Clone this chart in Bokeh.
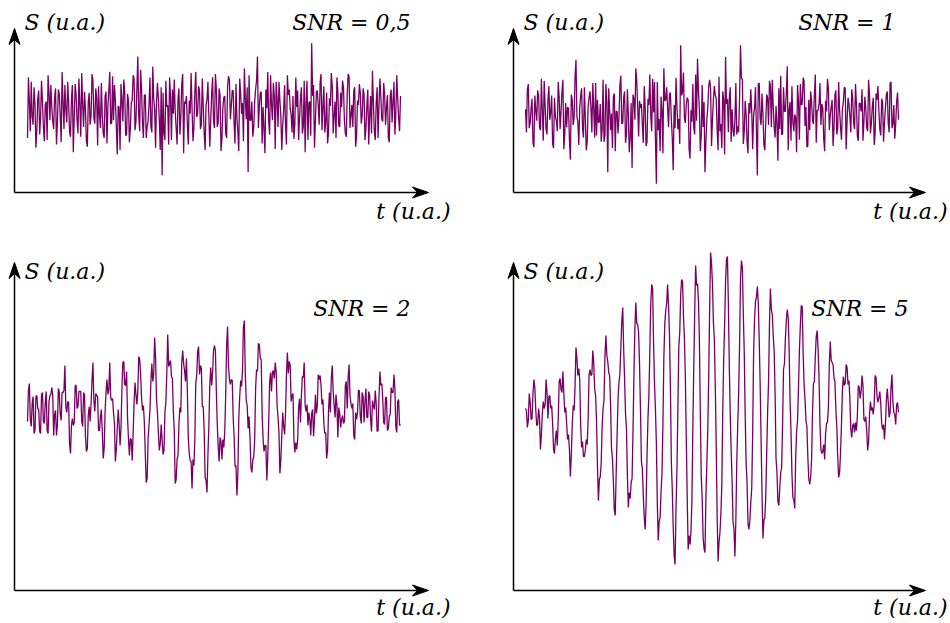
import numpy as np
from bokeh.plotting import figure
from bokeh.models import Range1d
from bokeh.core.properties import value
from bokeh.embed import file_html
from bokeh.resources import INLINE

# ---------------- data (signal values, arbitrary units) -------------
snr_labels = ["SNR = 0,5", "SNR = 1", "SNR = 2", "SNR = 5"]
y_label = "S (u.a.)"
x_label = "t (u.a.)"

s_snr05 = [
    -24, 31, 9, -18, 27, -5, -12, 22, 7, -33, -17, 12,
    19, -21, -6, 28, 10, -14, -27, 6, 9, -26, 33, 17, -8, 24, 4, -9,
    -16, 13, 21, -30, -10, 20, 16, -4, -28, 36, 9, -16, 24, 2, -10, 27,
    8, -19, -23, 11, 24, -37, -5, 25, 15, -8, -20, 30, 6, -23, 35, 7,
    -14, 18, 2, -27, -32, 9, 17, -12, -4, 34, 28, -6, -11, 21, 13, -31,
    23, -3, -15, 26, -3, -20, -24, 14, 18, -29, 4, 19, 36, -11, -11, 32,
    -8, 24, 10, -13, -39, 5, 4, -35, 25, 10, -9, 29, 18, -22, -21, 16,
    10, -28, -16, 8, 10, 33, 30, -17, -9, 21, 50, -4, -18, 38, 20, -10,
    -24, 15, 15, -24, -14, -9, 6, 31, -14, -19, 41, 12, 2, -33, 9, 26,
    12, -7, -35, 22, -58, 17, -20, -26, 28, 4, 6, -30, 31, 13, -26, 20,
    -2, 29, 0, -15, -30, 11, 21, -21, -6, 25, 34, -38, 9, 7, 14, -12,
    -30, 10, -2, 35, 4, -27, -15, 18, 36, -5, -2, 23, 19, -16, -12, 30,
    5, -20, -35, 6, 11, 27, -4, -32, -8, 16, 31, -9, -15, 34, 21, -14,
    -10, 21, 15, -36, -25, 3, 13, 14, -20, -24, 22, 32, 29, -7, 5, 19,
    19, -11, -29, 25, -6, -18, -36, 30, 16, -2, 8, -27, 39, 12, -7, 22,
    -55, 33, -8, -8, 9, -23, -15, 9, 20, 28, 50, -15, 5, 17, 18, -29,
    4, -16, -38, 20, 3, 36, -9, -21, 33, 7, -8, 26, 14, -34, 27, 11,
    -14, 27, 10, -4, -35, -12, 1, 24, -12, -30, 33, 15, 20, 3, -3, -19,
    14, -25, -11, 31, 4, 19, -26, -6, 12, 22, -20, -14, 28, -37, 9, 28,
    -26, 8, 9, -22, 62, 14, 24, -33, -8, 18, 19, 5, -12, 26, 34, -17,
    4, 23, -19, -10, 17, -29, -19, 12, 5, 35, 23, -20, -3, 9, -24, 31,
    18, -13, -14, 17, 4, 28, 22, -8, -20, -23, 15, 34, 32, -15, -3, 6,
    -14, 19, 22, -32, -23, 10, 6, 25, 17, -11, -4, 21, 16, -26, -15, 4,
    20, -30, -4, 14, -20, 37, 9, -18, -26, 8, 22, -24, 6, 30, 13, -7,
    -9, 26, 16, -12, 4, 15, -24, -28, 14, 20, -10, 9, 27, -21, -3, 33, 12, -6, -18, 14,
]

s_snr1 = [
    5, -17, 24, 29, -13, -8, 6, 15, -27, -31, 18, 4,
    -6, 23, 18, -12, -15, 34, 4, -25, 32, 9, -14, -19, 13, 27, -5, 2,
    18, -28, -32, 16, -2, -6, -16, 31, 17, -14, 3, 21, 33, -33, -19, 11,
    -12, 7, 6, -24, -43, 19, 14, -10, -3, 36, 52, -2, -7, -29, 6, 18,
    25, -13, -22, 26, -4, -34, -26, 8, 16, 22, 6, -17, 30, 5, -22, 30,
    -20, 14, -8, -7, 10, -26, -14, 33, -26, -20, 29, 12, -55, 25, 4, -15,
    1, -32, 17, 20, -35, 3, 3, -18, -2, 28, 37, -9, -8, 16, 22, -27,
    -19, 24, 0, -36, -22, 11, -51, 19, 15, -5, 44, 32, 8, -21, 13, 6,
    10, -10, -27, 27, 7, -30, -26, 15, 9, 38, -2, -16, 34, 2, 31, -24,
    -66, 31, -15, -4, -35, 17, 4, -37, 44, 13, 14, 26, 7, -12, 19, 21,
    -5, -22, -53, 9, -13, 35, 9, -14, -4, -28, 66, 18, 22, 40, -4, -8,
    10, 16, 14, -33, -42, 4, -7, 29, -12, -19, 38, -6, 53, 23, 5, -35,
    -20, 28, -12, 12, -55, -25, -5, 7, 27, 33, 25, -30, -4, 14, 27, 19,
    15, -14, -34, 36, -16, -9, -32, 22, 14, -38, 55, 10, 15, -17, 15, 26,
    -26, 5, -15, -21, -6, 30, -19, -11, -17, 17, 66, 34, 34, -28, -16, 13,
    0, -26, -37, 11, 1, 24, 3, -33, -1, 6, 26, -15, -58, 29, 30, -4,
    -10, 20, 1, -29, -34, -7, 19, 16, -10, 32, 27, -12, 33, 8, -12, -22,
    8, -9, -44, 25, -14, 37, -19, -19, 26, 3, 3, 21, 46, -34, 5, 12,
    -25, 27, -7, -16, 0, -3, -36, 28, 12, -24, 29, 9, 10, 35, 32, -11,
    7, -31, -30, 14, -15, 22, 13, -6, -9, 18, 38, -27, 4, 4, 10, 30,
    -10, 10, 6, -23, -35, 13, 3, 34, 25, -15, -1, 7, 14, -30, -13, 19,
    23, -19, -13, 31, 4, -12, -24, 5, 12, 26, 25, -33, -6, 16, 10, -2,
    -17, 24, 15, -8, -14, 29, 10, -21, -25, 11, 10, 3, 24, -25, -7, 17,
    6, -12, -16, 33, 19, -18, -8, 8, 16, -29, -18, 20, 14, 27, 4, -14,
    -20, 15, 11, -26, -7, 6, 19, 22, -8, -17, 30, 31, -13, -9, 9, -23, -9, 12, 21, -5,
]

s_snr2 = [
    -11, 20, 27, -9, -16, 7, 14, -23, -20, 14, 15, 2,
    1, -21, -23, 16, 18, -11, -13, 8, 19, -20, -23, 9, 15, 16, 23, 15,
    -25, -4, 0, -25, -15, 22, 18, -4, -10, 18, 18, 20, 45, 3, -2, 9,
    8, -33, -43, -15, -8, -15, -12, 25, 25, 2, 4, 19, 19, 19, -11, -16,
    18, 15, -26, -41, -38, -5, 4, -11, 6, 30, 48, 10, -1, 17, 15, 14,
    -20, -20, -7, 1, -21, -48, -38, -1, 19, 31, 16, 21, 48, 13, 10, 12,
    -2, -13, -51, -39, -18, 1, -13, -35, -18, 21, 48, 49, 26, 25, 39, -7,
    -28, -45, -28, -29, -50, -23, 8, 28, 16, 6, 19, 54, 51, 37, 13, 0,
    5, -12, -44, -72, -68, -28, -14, 1, 29, 47, 29, 36, 73, 53, 11, -2,
    -22, -40, -33, -14, -29, -44, -40, -2, 8, 37, 76, 44, 47, 50, 34, 32,
    -1, -21, -73, -69, -49, -45, -13, 3, -2, 48, 60, 47, 40, 29, 52, 20,
    -27, -43, -50, -51, -78, -49, -55, -29, 28, 35, 59, 64, 36, 45, 42, 4,
    4, -21, -67, -70, -82, -44, -16, 26, 43, 25, 38, 60, 65, 60, 20, -14,
    -36, -51, -27, -31, -49, -29, -37, -21, 15, 65, 84, 45, 31, 26, 31, 30,
    -7, -26, -56, -55, -85, -64, -8, 14, 30, 24, 40, 84, 90, 36, 10, 5,
    -18, -6, -27, -57, -62, -50, -46, -30, 22, 41, 39, 67, 66, 52, 51, -4,
    -28, -41, -35, -35, -70, -47, -12, 28, 38, 19, 38, 40, 32, 48, 39, 5,
    -7, -22, -63, -49, -25, -2, -16, -24, -3, 36, 58, 37, 49, 45, 9, 15,
    17, -29, -42, -32, -39, -29, 3, 12, -12, 15, 34, 33, 48, 5, -1, 6,
    -15, -2, -9, -25, -3, 1, -26, -9, 16, -3, 5, 36, 31, 35, 25, 6,
    11, -13, -23, -22, -48, -39, 0, 18, -2, 33, 45, 19, 5, -7, 16, 6,
    -27, 3, -3, -17, -9, -5, -13, -11, 25, 29, 2, 33, 46, 14, 7, 2,
    7, -25, -29, -2, -9, -2, 20, 20, -6, -13, 18, 14, -12, 9, 22, -7,
    -7, 19, 15, -9, -21, 10, 5, 1, 20, 7, -21, -20, 14, 39, 25, 27,
    12, -12, -14, 13, 13, -20, -18, -6, -4, 23, 18, 18, 36, 22, -17, -22, 9, 11, -15, -14,
]

s_snr5 = [
    4, 2, -15, -8, 19, 11, -7, -6, 19, 33, 25, 2,
    -13, -12, 4, -5, -37, -22, -1, 11, 4, 8, 33, 20, -6, 16, 17, 4,
    7, -11, -37, -41, -26, -18, -33, -7, 31, 34, 23, 20, 41, 19, 0, 5,
    -11, -27, -22, -37, -64, -43, -12, 7, 2, 26, 65, 54, 37, 44, 33, -12,
    -35, -29, -44, -44, -38, -27, -32, -6, 38, 43, 37, 38, 62, 50, 23, 17,
    -9, -55, -88, -67, -64, -50, -13, 4, 13, 57, 77, 57, 51, 40, 37, 9,
    -36, -46, -69, -98, -103, -60, -22, 14, 30, 39, 65, 91, 105, 64, 33, -1,
    -16, -64, -95, -80, -86, -70, -66, -18, 38, 83, 110, 89, 88, 80, 48, 2,
    -49, -56, -83, -105, -117, -92, -43, -6, 18, 61, 110, 128, 124, 69, 29, 3,
    -31, -91, -128, -109, -105, -79, -61, -12, 55, 89, 102, 109, 128, 107, 79, 27,
    -49, -77, -114, -143, -152, -96, -57, 3, 66, 80, 118, 133, 131, 96, 74, 35,
    -27, -86, -137, -123, -132, -119, -89, -16, 46, 100, 147, 127, 129, 112, 74, 0,
    -64, -86, -125, -136, -140, -84, -50, -17, 37, 106, 160, 149, 129, 90, 74, 27,
    -32, -103, -149, -130, -120, -102, -72, 1, 53, 88, 131, 153, 156, 110, 47, -2,
    -38, -68, -109, -117, -144, -108, -50, -13, 19, 68, 134, 152, 145, 98, 60, -3,
    -51, -70, -111, -117, -108, -90, -76, -21, 59, 93, 111, 115, 126, 110, 73, 29,
    -26, -81, -126, -107, -106, -84, -42, 1, 31, 90, 124, 103, 98, 77, 61, 19,
    -46, -60, -89, -93, -75, -60, -55, -12, 43, 49, 74, 92, 103, 95, 63, 13,
    -19, -61, -85, -87, -96, -46, -19, -8, 24, 62, 87, 107, 106, 60, 28, 13,
    -8, -14, -44, -66, -72, -65, -48, -1, 29, 31, 56, 76, 82, 63, 35, -11,
    -37, -41, -39, -32, -47, -21, -11, -10, 5, 48, 71, 52, 50, 48, 34, 31,
    3, -14, -45, -65, -60, -40, -12, 22, 36, 27, 29, 48, 45, 28, 32, 13,
    -17, -25, -13, -11, -20, -10, -18, -3, 27, 25, 14, 21, 37, 27, -7, -9,
    -4, -18, -38, -29, -2, 11, 2, 5, -2, 8, 37, 35, 16, 10, 15, 21,
    9, -11, -17, -12, -27, -12, 12, 24, 11, -5, 0, 25, 38, 11, 0, -2, -12, 8, 10, 0,
]

# ---------------- layout (page pixels) ----------------
W, H = 950, 623
FONT = "DejaVu Serif"
FS = "22px"
LINE_COLOR = "#780064"

panels = [
    dict(series=s_snr05, snr=snr_labels[0], ox=14, oy=192, ytip=28, xtip=428, ppu=1.1,
         sx0=27, sx1=400, cy=111, ylab_y=22, snr_x=410, snr_y=22, xlab_x=450, xlab_y=211),
    dict(series=s_snr1, snr=snr_labels[1], ox=513, oy=192, ytip=28, xtip=925, ppu=1.05,
         sx0=525, sx1=898, cy=114, ylab_y=22, snr_x=895, snr_y=22, xlab_x=947, xlab_y=211),
    dict(series=s_snr2, snr=snr_labels[2], ox=14, oy=590, ytip=262, xtip=428, ppu=1.0,
         sx0=27, sx1=400, cy=410, ylab_y=271, snr_x=410, snr_y=308, xlab_x=450, xlab_y=607),
    dict(series=s_snr5, snr=snr_labels[3], ox=513, oy=590, ytip=262, xtip=925, ppu=1.0,
         sx0=525, sx1=898, cy=412, ylab_y=271, snr_x=908, snr_y=308, xlab_x=947, xlab_y=607),
]

p = figure(width=W, height=H, x_range=Range1d(0, W), y_range=Range1d(H, 0),
           output_backend="svg", toolbar_location=None, min_border=0)
p.axis.visible = False
p.grid.visible = False
p.outline_line_color = None
p.background_fill_color = "white"
p.border_fill_color = "white"

xr, yr = {}, {}
for k, g in enumerate(panels):
    n = len(g["series"])
    scale = (n - 1) / (g["sx1"] - g["sx0"])
    xr[f"x{k}"] = Range1d(-g["sx0"] * scale, (W - g["sx0"]) * scale)
    yr[f"y{k}"] = Range1d((g["cy"] - H) / g["ppu"], g["cy"] / g["ppu"])
p.extra_x_ranges = xr
p.extra_y_ranges = yr

HL, HW, NOTCH = 16, 5.5, 5  # arrow head length, half width, notch depth
ax_xs, ax_ys, hd_xs, hd_ys = [], [], [], []
for k, g in enumerate(panels):
    ox, oy, yt, xt = g["ox"], g["oy"], g["ytip"], g["xtip"]
    ax_xs += [[ox, ox], [ox, xt - HL + NOTCH]]
    ax_ys += [[oy, yt + HL - NOTCH], [oy, oy]]
    hd_xs += [[ox, ox + HW, ox, ox - HW], [xt, xt - HL, xt - HL + NOTCH, xt - HL]]
    hd_ys += [[yt, yt + HL, yt + HL - NOTCH, yt + HL], [oy, oy - HW, oy, oy + HW]]

    idx = np.arange(len(g["series"]))
    p.line(idx, g["series"], x_range_name=f"x{k}", y_range_name=f"y{k}",
           line_color=LINE_COLOR, line_width=1.3)

p.multi_line(ax_xs, ax_ys, line_color="black", line_width=1.5)
p.patches(hd_xs, hd_ys, fill_color="black", line_color="black", line_width=1)

common = dict(text_font=value(FONT), text_font_style="italic", text_font_size=FS,
              text_color="black", text_baseline="alphabetic")
p.text(x=[g["ox"] + 10 for g in panels], y=[g["ylab_y"] for g in panels],
       text=[y_label] * 4, text_align="left", **common)
p.text(x=[g["snr_x"] for g in panels], y=[g["snr_y"] for g in panels],
       text=[g["snr"] for g in panels], text_align="right", **common)
p.text(x=[g["xlab_x"] for g in panels], y=[g["xlab_y"] for g in panels],
       text=[x_label] * 4, text_align="right", **common)

open("out.html", "w").write(file_html(p, INLINE))
